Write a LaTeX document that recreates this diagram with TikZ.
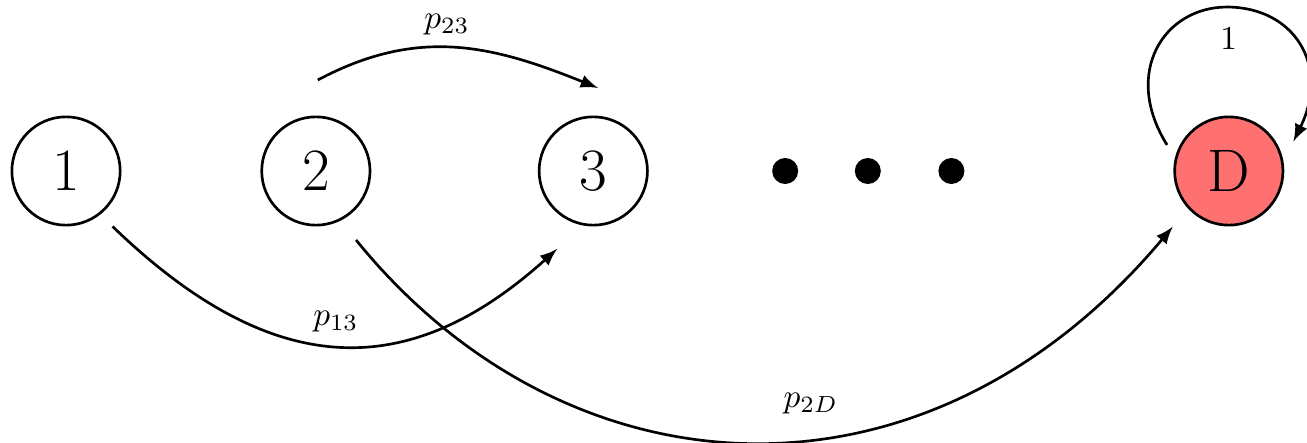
\documentclass[tikz,border=0pt]{standalone}
\usepackage{amsmath,amssymb}
\usetikzlibrary{calc}

\begin{document}
\begin{tikzpicture}[
  stnode/.style={draw,thick,circle,minimum size=1.14cm,inner sep=0pt,font=\fontsize{18}{20}\selectfont},
  trans/.style={thick,-latex},
]
\useasboundingbox (-0.695,-2.863) rectangle (13.063,1.8);
% states of the chain
\node[stnode] (s1) at (0,0) {1};
\node[stnode] (s2) at (2.63,0) {2};
\node[stnode] (s3) at (5.55,0) {3};
\node[stnode,fill=red!56] (sD) at (12.24,0) {D};
% dots between 3 and D
\foreach \x in {7.57,8.44,9.32}{\fill (\x,0) circle (0.137);}
% end points of the transitions (kept off the circles)
\coordinate (a13) at ($(s1)+(-50:0.762)$);
\coordinate (b13) at ($(s3)+(-0.38,-0.82)$);
\coordinate (a23) at ($(s2)+(0.02,0.958)$);
\coordinate (b23) at ($(s3)+(0.05,0.874)$);
\coordinate (a2D) at ($(s2)+(0.423,-0.726)$);
\coordinate (b2D) at ($(sD)+(-0.59,-0.586)$);
\coordinate (aDD) at ($(sD)+(-0.65,0.274)$);
\coordinate (tDD) at ($(sD)+(-0.02,1.726)$);
\coordinate (bDD) at ($(sD)+(0.68,0.31)$);
% transitions
\draw[trans] (a13) .. controls +(-44:2.42) and +(-138:2.04) .. (b13);
\draw[trans] (a23) .. controls +(28:1.2) and +(158:1.2) .. (b23);
\draw[trans] (a2D) .. controls +(-51:3.5) and +(-130:4.1) .. (b2D);
\draw[trans] (aDD) .. controls +(122:0.9) and +(180:0.66) .. (tDD)
  .. controls +(0:0.7) and +(64:0.9) .. (bDD);
% probabilities
\node (l13) at (2.84,-1.58) {$p_{13}$};
\node (l23) at (4.01,1.54) {$p_{23}$};
\node (l2D) at (7.84,-2.45) {$p_{2D}$};
\node (lDD) at (12.24,1.4) {1};
\end{tikzpicture}
\end{document}
